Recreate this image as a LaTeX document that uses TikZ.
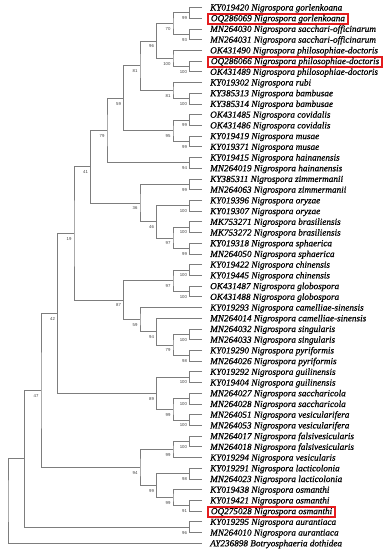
\documentclass[tikz,border=0pt]{standalone}
\usepackage{fontspec}
\setmainfont{Liberation Serif}[ItalicFeatures={FakeBold=0.6}]
\newfontfamily\bslab{Liberation Sans}
\usetikzlibrary{calc}
\definecolor{brgray}{RGB}{125,125,125}
\definecolor{boxred}{RGB}{228,28,30}
\newcommand\clade[5]{%
  \path let \p1=(#3), \p2=(#4) in coordinate (#1) at (#2pt, {0.5*\y1+0.5*\y2});
  \draw[br] (#3) -| (#1) |- (#4);
  \ifx\relax#5\relax\else\node[bs] (#1b) at ([xshift=-2.3pt,yshift=-5.3pt]#1) {#5};\fi
}
\newcommand\lf[3]{\coordinate (t#1) at (202,#2); \node[leaf] (n#1) at (207,{#2+3}) {#3};}
\newcommand\lfb[3]{\coordinate (t#1) at (202,#2); \node[leaf,boxed] (n#1) at (207,{#2+3}) {#3};}
\begin{document}
\begin{tikzpicture}[x=1pt,y=-1pt,
  br/.style={draw=brgray,line width=0.8pt},
  bs/.style={font=\bslab\fontsize{4.3}{5}\selectfont,text=black!75,anchor=east,inner sep=0pt},
  leaf/.style={font=\itshape\fontsize{9.2}{10}\selectfont,anchor=base west,inner xsep=3pt,inner ysep=1.2pt,text height=5.8pt,text depth=1.4pt},
  boxed/.style={draw=boxred,line width=1.8pt}]
\useasboundingbox (0,0) rectangle (390,550);
\lf{1}{7.50}{KY019420 Nigrospora gorlenkoana}
\lfb{2}{18.22}{OQ286069 Nigrospora gorlenkoana}
\lf{3}{28.93}{MN264030 Nigrospora sacchari-officinarum}
\lf{4}{39.65}{MN264031 Nigrospora sacchari-officinarum}
\lf{5}{50.36}{OK431490 Nigrospora philosophiae-doctoris}
\lfb{6}{61.08}{OQ286066 Nigrospora philosophiae-doctoris}
\lf{7}{71.80}{OK431489 Nigrospora philosophiae-doctoris}
\lf{8}{82.51}{KY019302 Nigrospora rubi}
\lf{9}{93.23}{KY385313 Nigrospora bambusae}
\lf{10}{103.94}{KY385314 Nigrospora bambusae}
\lf{11}{114.66}{OK431485 Nigrospora covidalis}
\lf{12}{125.38}{OK431486 Nigrospora covidalis}
\lf{13}{136.09}{KY019419 Nigrospora musae}
\lf{14}{146.81}{KY019371 Nigrospora musae}
\lf{15}{157.52}{KY019415 Nigrospora hainanensis}
\lf{16}{168.24}{MN264019 Nigrospora hainanensis}
\lf{17}{178.96}{KY385311 Nigrospora zimmermanii}
\lf{18}{189.67}{MN264063 Nigrospora zimmermanii}
\lf{19}{200.39}{KY019396 Nigrospora oryzae}
\lf{20}{211.10}{KY019307 Nigrospora oryzae}
\lf{21}{221.82}{MK753271 Nigrospora brasiliensis}
\lf{22}{232.54}{MK753272 Nigrospora brasiliensis}
\lf{23}{243.25}{KY019318 Nigrospora sphaerica}
\lf{24}{253.97}{MN264050 Nigrospora sphaerica}
\lf{25}{264.68}{KY019422 Nigrospora chinensis}
\lf{26}{275.40}{KY019445 Nigrospora chinensis}
\lf{27}{286.12}{OK431487 Nigrospora globospora}
\lf{28}{296.83}{OK431488 Nigrospora globospora}
\lf{29}{307.55}{KY019293 Nigrospora camelliae-sinensis}
\lf{30}{318.26}{MN264014 Nigrospora camelliae-sinensis}
\lf{31}{328.98}{MN264032 Nigrospora singularis}
\lf{32}{339.70}{MN264033 Nigrospora singularis}
\lf{33}{350.41}{KY019290 Nigrospora pyriformis}
\lf{34}{361.13}{MN264026 Nigrospora pyriformis}
\lf{35}{371.84}{KY019292 Nigrospora guilinensis}
\lf{36}{382.56}{KY019404 Nigrospora guilinensis}
\lf{37}{393.28}{MN264027 Nigrospora saccharicola}
\lf{38}{403.99}{MN264028 Nigrospora saccharicola}
\lf{39}{414.71}{MN264051 Nigrospora vesicularifera}
\lf{40}{425.42}{MN264053 Nigrospora vesicularifera}
\lf{41}{436.14}{MN264017 Nigrospora falsivesicularis}
\lf{42}{446.86}{MN264018 Nigrospora falsivesicularis}
\lf{43}{457.57}{KY019294 Nigrospora vesicularis}
\lf{44}{468.29}{KY019291 Nigrospora lacticolonia}
\lf{45}{479.00}{MN264023 Nigrospora lacticolonia}
\lf{46}{489.72}{KY019438 Nigrospora osmanthi}
\lf{47}{500.44}{KY019421 Nigrospora osmanthi}
\lfb{48}{511.15}{OQ275028 Nigrospora osmanthi}
\lf{49}{521.87}{KY019295 Nigrospora aurantiaca}
\lf{50}{532.58}{MN264010 Nigrospora aurantiaca}
\lf{51}{543.30}{AY236898 Botryosphaeria dothidea}
% clades: name, x, child1, child2, support
\clade{A}{189.5}{t1}{t2}{99}
\clade{B}{189.5}{t3}{t4}{93}
\clade{C}{173}{A}{B}{70}
\clade{D}{189.5}{t6}{t7}{100}
\clade{E}{173}{t5}{D}{100}
\clade{F}{156.5}{C}{E}{96}
\clade{G}{189.5}{t9}{t10}{100}
\clade{H}{173}{t8}{G}{81}
\clade{I}{140}{F}{H}{81}
\clade{J}{189.5}{t11}{t12}{99}
\clade{K}{189.5}{t13}{t14}{99}
\clade{L}{173}{J}{K}{95}
\clade{M}{123.5}{I}{L}{59}
\clade{O}{189.5}{t15}{t16}{94}
\clade{N}{107}{M}{O}{79}
\clade{R}{189.5}{t17}{t18}{99}
\clade{T}{189.5}{t19}{t20}{100}
\clade{V}{189.5}{t21}{t22}{100}
\clade{W}{189.5}{t23}{t24}{99}
\clade{U}{173}{V}{W}{97}
\clade{S}{156.5}{T}{U}{46}
\clade{Q}{140}{R}{S}{36}
\clade{P}{90.5}{N}{Q}{41}
\clade{Ch}{189.5}{t25}{t26}{100}
\clade{Gl}{189.5}{t27}{t28}{100}
\clade{Y}{173}{Ch}{Gl}{97}
\clade{Si}{189.5}{t31}{t32}{100}
\clade{Py}{189.5}{t33}{t34}{98}
\clade{Zc}{173}{Si}{Py}{79}
\clade{Zb}{156.5}{t30}{Zc}{94}
\clade{Z}{140}{t29}{Zb}{59}
\clade{X}{123.5}{Y}{Z}{87}
\clade{AA}{74}{P}{X}{19}
\clade{DD}{189.5}{t35}{t36}{100}
\clade{Sa}{189.5}{t37}{t38}{100}
\clade{Ve}{189.5}{t39}{t40}{100}
\clade{EE}{173}{Sa}{Ve}{99}
\clade{CC}{156.5}{DD}{EE}{89}
\clade{BB}{57.5}{AA}{CC}{42}
\clade{Fa}{189.5}{t41}{t42}{100}
\clade{HH}{173}{Fa}{t43}{99}
\clade{La}{189.5}{t44}{t45}{98}
\clade{KK}{189.5}{t47}{t48}{91}
\clade{JJ}{173}{t46}{KK}{99}
\clade{II}{156.5}{La}{JJ}{99}
\clade{GG}{140}{HH}{II}{94}
\clade{FF}{41}{BB}{GG}{47}
\clade{MM}{189.5}{t49}{t50}{96}
\clade{LL}{24.5}{FF}{MM}{}
\clade{Root}{8}{LL}{t51}{}
\end{tikzpicture}
\end{document}
